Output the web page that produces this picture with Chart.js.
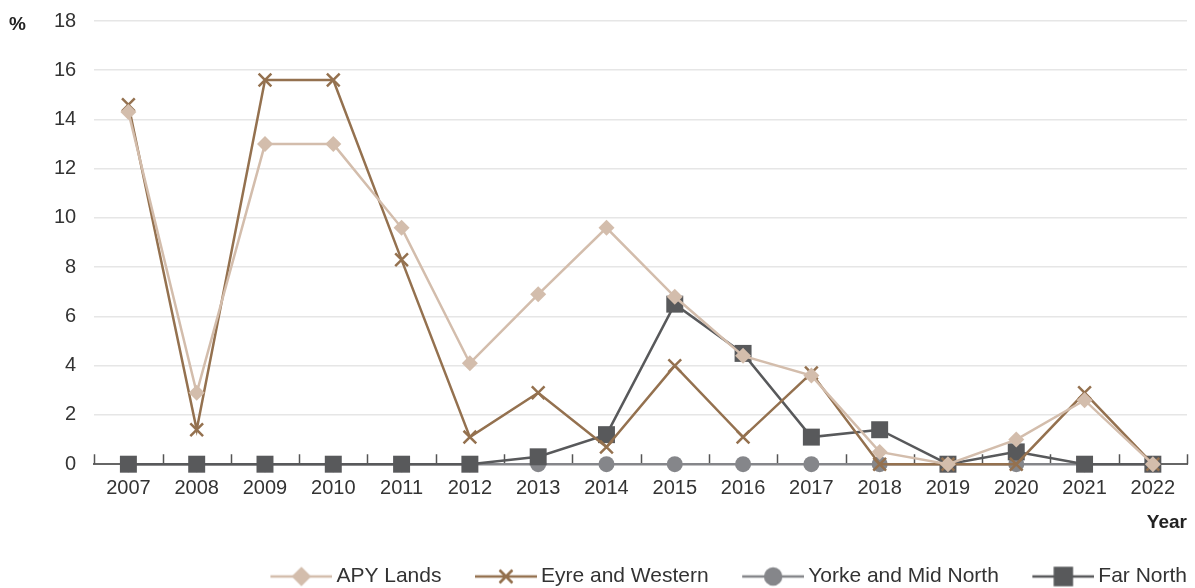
<!DOCTYPE html>
<html>
<head>
<meta charset="utf-8">
<script src="https://cdn.jsdelivr.net/npm/chart.js@4"></script>
<style>
  html, body { margin: 0; padding: 0; background: #fff; }
  #wrap { width: 1195px; height: 588px; }
</style>
</head>
<body>
<div id="wrap"><canvas id="linechart"></canvas></div>
<script>
const years = ['2007','2008','2009','2010','2011','2012','2013','2014','2015','2016','2017','2018','2019','2020','2021','2022'];
const apyLands = [14.3, 2.9, 13.0, 13.0, 9.6, 4.1, 6.9, 9.6, 6.8, 4.4, 3.6, 0.5, 0, 1.0, 2.6, 0];
const eyreWestern = [14.6, 1.4, 15.6, 15.6, 8.3, 1.1, 2.9, 0.7, 4.0, 1.1, 3.7, 0, 0, 0, 2.9, 0];
const yorkeMidNorth = [0, 0, 0, 0, 0, 0, 0, 0, 0, 0, 0, 0, 0, 0, 0, 0];
const farNorth = [0, 0, 0, 0, 0, 0, 0.3, 1.2, 6.5, 4.5, 1.1, 1.4, 0, 0.5, 0, 0];
const yTicks = [0, 2, 4, 6, 8, 10, 12, 14, 16, 18];

const FONT = "'Liberation Sans', Arial, sans-serif";
const BOX_W = 89;

// legend symbol: blank space on the left (the gap between items), then line with marker
function legendIcon(color, style, radius) {
    const c = document.createElement('canvas');
    c.width = BOX_W + 13; c.height = 26;
    const g = c.getContext('2d');
    const x0 = c.width - 62;
    g.strokeStyle = color;
    g.lineWidth = 2.5;
    g.beginPath(); g.moveTo(x0, 13); g.lineTo(c.width, 13); g.stroke();
    g.fillStyle = color;
    Chart.helpers.drawPoint(g, {pointStyle: style, radius: radius, rotation: 0, borderWidth: 2.5}, x0 + 31, 13);
    g.fill();
    if (style === 'crossRot') g.stroke();
    return c;
}

// "%" unit label at the top left
const percentLabel = {
    id: 'percentLabel',
    afterDraw(chart) {
        const g = chart.ctx;
        g.save();
        g.font = 'bold 19px ' + FONT;
        g.fillStyle = '#222';
        g.textBaseline = 'middle';
        g.fillText('%', 9, chart.chartArea.top + 4);
        g.restore();
    }
};

// short tick marks pointing up from the x axis, between the years
const innerTicks = {
    id: 'innerTicks',
    beforeDatasetsDraw(chart) {
        const x = chart.scales.x;
        const g = chart.ctx;
        const step = x.getPixelForTick(1) - x.getPixelForTick(0);
        const base = chart.chartArea.bottom;
        g.save();
        g.strokeStyle = '#555';
        g.lineWidth = 1.5;
        g.beginPath();
        for (let i = 0; i <= years.length; i++) {
            const px = Math.round(x.getPixelForTick(0) - step / 2 + i * step) + 0.5;
            g.moveTo(px, base);
            g.lineTo(px, base - 10);
        }
        g.stroke();
        g.restore();
    }
};

const ctx = document.getElementById('linechart').getContext('2d');
const myChart = new Chart(ctx, {
    type: 'line',
    data: {
        labels: years,
        datasets: [{
            label: 'APY Lands',
            data: apyLands,
            borderColor: '#d3bdac',
            backgroundColor: '#d3bdac',
            borderWidth: 2.5,
            pointStyle: 'rectRot',
            pointRadius: 8,
            pointBorderWidth: 0,
            clip: false,
            order: 0
        }, {
            label: 'Eyre and Western',
            data: eyreWestern,
            borderColor: '#94714f',
            backgroundColor: '#94714f',
            borderWidth: 2.5,
            pointStyle: 'crossRot',
            pointRadius: 9,
            pointBorderWidth: 2.5,
            clip: false,
            order: 1
        }, {
            label: 'Yorke and Mid North',
            data: yorkeMidNorth,
            borderColor: '#85868a',
            backgroundColor: '#85868a',
            borderWidth: 2.5,
            pointStyle: 'circle',
            pointRadius: 8,
            pointBorderWidth: 0,
            clip: false,
            order: 3
        }, {
            label: 'Far North',
            data: farNorth,
            borderColor: '#58595b',
            backgroundColor: '#58595b',
            borderWidth: 2.5,
            pointStyle: 'rect',
            pointRadius: 12,
            pointBorderWidth: 0,
            clip: false,
            order: 2
        }]
    },
    options: {
        responsive: true,
        maintainAspectRatio: false,
        animation: false,
        layout: { autoPadding: false, padding: { left: 54, right: 8, top: 21, bottom: -9 } },
        plugins: {
            tooltip: { enabled: false },
            legend: {
                position: 'bottom',
                align: 'end',
                labels: {
                    usePointStyle: true,
                    pointStyleWidth: BOX_W,
                    boxHeight: 21,
                    padding: 0,
                    color: '#333',
                    font: { family: FONT, size: 21 },
                    sort: (a, b) => a.datasetIndex - b.datasetIndex,
                    generateLabels(chart) {
                        const items = Chart.defaults.plugins.legend.labels.generateLabels(chart);
                        const radii = [8, 9, 8, 12];
                        items.forEach(it => {
                            const ds = chart.data.datasets[it.datasetIndex];
                            it.pointStyle = legendIcon(ds.borderColor, ds.pointStyle, radii[it.datasetIndex]);
                        });
                        return items;
                    }
                }
            }
        },
        scales: {
            x: {
                offset: true,
                grid: { display: false, drawTicks: true, tickLength: 12 },
                border: { display: true, color: '#666', width: 2 },
                ticks: {
                    padding: 0,
                    color: '#333',
                    font: { family: FONT, size: 20 }
                },
                title: {
                    display: true,
                    text: 'Year',
                    align: 'end',
                    color: '#222',
                    font: { family: FONT, size: 19, weight: 'bold' },
                    padding: { top: 11, bottom: 32 }
                }
            },
            y: {
                min: 0,
                max: 18,
                afterBuildTicks(axis) { axis.ticks = yTicks.map(v => ({ value: v })); },
                grid: { color: '#e6e6e6', lineWidth: 1.5, drawTicks: true, tickLength: 18, tickColor: 'rgba(0,0,0,0)' },
                border: { display: false },
                ticks: {
                    padding: 0,
                    color: '#333',
                    font: { family: FONT, size: 20 }
                }
            }
        }
    },
    plugins: [percentLabel, innerTicks]
});
</script>
</body>
</html>
